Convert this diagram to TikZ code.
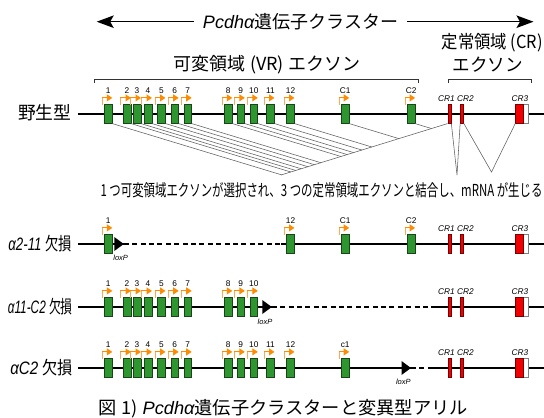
\documentclass[tikz,border=0pt]{standalone}
\usepackage{fontspec}
\usepackage{graphicx}
\setmainfont{Liberation Sans}
\newfontfamily\jp{Noto Sans CJK JP}
\usetikzlibrary{arrows.meta,calc}
\definecolor{exg}{RGB}{46,150,46}
\definecolor{exgd}{RGB}{25,70,25}
\definecolor{crr}{RGB}{240,0,0}
\definecolor{crd}{RGB}{120,0,0}
\definecolor{orng}{RGB}{255,140,0}
\definecolor{orngl}{RGB}{255,170,80}
\definecolor{fang}{RGB}{95,95,95}
\newcommand{\fitw}[2]{\resizebox{#1pt}{\height}{#2}}
\newcommand{\mkexon}[4]{%
  \node[exon] (#1) at (#2,#3) {};
  \draw[promv] ($(#1.north west)+(-2,0.3)$) -- ($(#1.north west)+(-2,-6.5)$);
  \draw[prom] ($(#1.north west)+(-2.5,-6.5)$) -- ($(#1.north)+(4,-6.5)$);
  \node[num] (#1-lab) at ($(#1.north)+(0,-13.5)$) {#4};
}
\newcommand{\mkcr}[2]{%
  \node[whbox] (#1cr3w) at (525.5,#2) {};
  \node[crbox, minimum width=7.5pt] (#1cr3) at (519.25,#2) {};
  \node[crbox] (#1cr1) at (449.5,#2) {};
  \node[crbox] (#1cr2) at (462,#2) {};
  \node[crlab] (#1cr1-lab) at (446.5,#2-15.5) {CR1};
  \node[crlab] (#1cr2-lab) at (465.5,#2-15.5) {CR2};
  \node[crlab] (#1cr3-lab) at (520,#2-15.5) {CR3};
}
\newcommand{\loxtri}[1]{%
  \fill (#1) ++(0,-7) -- ++(9.5,7) -- ++(-9.5,7) -- cycle;
}
\begin{document}
\begin{tikzpicture}[x=1pt,y=-1pt,
  exon/.style={draw=exgd, fill=exg, line width=0.6pt, minimum width=7.6pt, minimum height=18.6pt, inner sep=0pt},
  crbox/.style={draw=crd, fill=crr, line width=0.5pt, minimum width=3.2pt, minimum height=18.6pt, inner sep=0pt},
  whbox/.style={draw=gray, fill=white, line width=0.6pt, minimum width=5pt, minimum height=18.6pt, inner sep=0pt},
  num/.style={font=\fontsize{8.3}{8.3}\selectfont, inner sep=0pt},
  crlab/.style={font=\fontsize{8.3}{8.3}\selectfont\itshape, inner sep=0pt},
  loxlab/.style={font=\fontsize{7.5}{7.5}\selectfont\itshape, inner sep=0pt},
  promv/.style={orngl, line width=1pt},
  prom/.style={orng, line width=1pt, -{Triangle[length=5.5pt,width=7pt]}},
  gene/.style={line width=1.2pt},
  del/.style={line width=1.2pt, dash pattern=on 5pt off 3.4pt},
  fan/.style={fang, line width=0.55pt},
  brk/.style={line width=0.6pt, black!80},
  big/.style={line width=1.4pt, -{Stealth[length=17pt,width=12.5pt,inset=3.5pt]}},
  lbl/.style={inner sep=0pt, anchor=east},
  txt/.style={inner sep=0pt},
]
\fill[white] (0,0) rectangle (544,418);
\useasboundingbox (0,0) rectangle (544,418);

% ---- top labels
\node[txt, inner xsep=9pt] (title) at (300.5,21.7) {\fitw{195}{\fontsize{18}{18}\selectfont{\itshape Pcdhα}{\jp 遺伝子クラスター}}};
\coordinate (tl) at (96.7,21.7);
\coordinate (tr) at (533.5,21.7);
\draw[big] (title.west) -- (tl);
\draw[big] (title.east) -- (tr);
\node[txt] (crt1) at (492.3,43) {\fitw{101}{\jp\fontsize{18}{18}\selectfont 定常領域 (CR)}};
\node[txt] (crt2) at (487.9,64.3) {\fitw{70.3}{\jp\fontsize{18}{18}\selectfont エクソン}};
\node[txt] (vrt) at (267,64.3) {\fitw{186}{\jp\fontsize{18}{18}\selectfont 可変領域 (VR) エクソン}};
\draw[brk] (94,82.5) -- (94,79) -- (418.3,79) -- (418.3,82.5);
\draw[brk] (448.3,82.5) -- (448.3,79) -- (531.7,79) -- (531.7,82.5);

% ---- wild type row
\node[lbl] (lw) at (71.7,113) {\fitw{53.4}{\jp\fontsize{18}{18}\selectfont 野生型}};
\coordinate (ws) at (78,114);
\coordinate (we) at (544,114);
\draw[gene] (ws) -- (we);
\foreach \n/\x in {1/108.3,2/127,3/137,4/148,5/161.5,6/174.7,7/187.7,8/228.3,9/240.8,10/253.8,11/270.5,12/290.5,C1/345.2,C2/411.1}
  {\mkexon{w\n}{\x}{114}{\n}}
\mkcr{w}{114}
% splicing lines
\coordinate (apex) at (281,175);
\coordinate (Lb) at (wcr1.south west);
\draw[fan] (Lb) -- (apex);
\foreach \n in {1,2,3,4,5,6,7,8,9,10,11,12,C1,C2}{
  \coordinate (S) at (w\n.south east);
  \coordinate (D) at ($(S)+(100,30.3)$);
  \draw[fan] (S) -- (intersection of S--D and Lb--apex);
}
\coordinate (v1) at (457,175);
\coordinate (v2) at (491.5,172);
\draw[fan] (wcr1.south east) -- (v1) -- (wcr2.south west);
\draw[fan] (wcr2.south east) -- (v2) -- (wcr3.south west);
\node[txt] (sent) at (321.5,190) {\fitw{442}{\jp\fontsize{16.5}{16.5}\selectfont 1 つ可変領域エクソンが選択され、3 つの定常領域エクソンと結合し、mRNA が生じる}};

% ---- alpha2-11 deletion
\node[lbl] (la) at (72,243.5) {\fitw{63.4}{\fontsize{18}{18}\selectfont{\itshape α2-11} {\jp 欠損}}};
\coordinate (as) at (78,244);
\coordinate (ax) at (114.3,244);
\coordinate (at) at (123.8,244);
\coordinate (ad) at (281,244);
\coordinate (ae) at (544,244);
\draw[gene] (as) -- (at);
\draw[del] (at) -- (ad);
\draw[gene] (ad) -- (ae);
\loxtri{ax}
\node[loxlab] (alox) at (120.7,258.3) {loxP};
\foreach \n/\x in {1/108.3,12/290.5,C1/345.2,C2/411.1}
  {\mkexon{a\n}{\x}{244}{\n}}
\mkcr{a}{244}

% ---- alpha11-C2 deletion
\node[lbl] (lb) at (73,306.5) {\fitw{65}{\fontsize{18}{18}\selectfont{\itshape α11-C2} {\jp 欠損}}};
\coordinate (bs) at (78,307);
\coordinate (bx) at (262.3,307);
\coordinate (bt) at (271.8,307);
\coordinate (bd) at (431,307);
\coordinate (be) at (544,307);
\draw[gene] (bs) -- (bt);
\draw[del] (bt) -- (bd);
\draw[gene] (bd) -- (be);
\loxtri{bx}
\node[loxlab] (blox) at (265,321.7) {loxP};
\foreach \n/\x in {1/108.3,2/127,3/137,4/148,5/161.5,6/174.7,7/187.7,8/228.3,9/240.8,10/253.8}
  {\mkexon{b\n}{\x}{307}{\n}}
\mkcr{b}{307}

% ---- alphaC2 deletion
\node[lbl] (lc) at (73,367.5) {\fitw{62.5}{\fontsize{18}{18}\selectfont{\itshape αC2} {\jp 欠損}}};
\coordinate (cs) at (78,368);
\coordinate (cx) at (401.5,368);
\coordinate (ct) at (411,368);
\coordinate (cd) at (432,368);
\coordinate (ce) at (544,368);
\draw[gene] (cs) -- (ct);
\draw[del] (ct) -- (cd);
\draw[gene] (cd) -- (ce);
\loxtri{cx}
\node[loxlab] (clox) at (403.3,381.7) {loxP};
\foreach \n/\x/\t in {1/108.3/1,2/127/2,3/137/3,4/148/4,5/161.5/5,6/174.7/6,7/187.7/7,8/228.3/8,9/240.8/9,10/253.8/10,11/270.5/11,12/290.5/12,C1/345.2/c1}
  {\mkexon{c\n}{\x}{368}{\t}}
\mkcr{c}{368}

% ---- caption
\node[txt] (cap) at (283.4,409) {\fitw{369}{\fontsize{18}{18}\selectfont{\jp 図 1)} {\itshape Pcdhα}{\jp 遺伝子クラスターと変異型アリル}}};
\end{tikzpicture}
\end{document}
